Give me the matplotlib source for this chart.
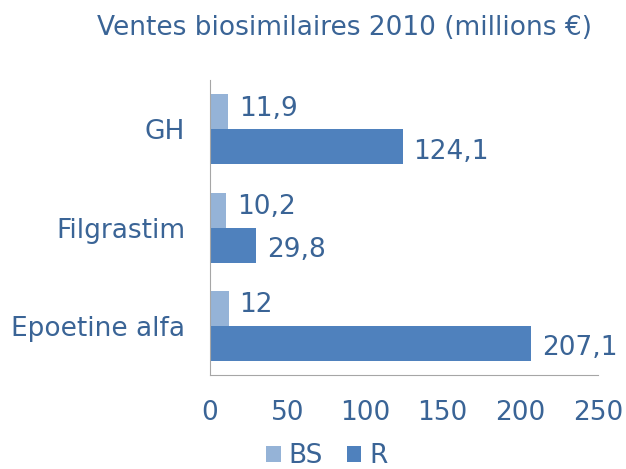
import numpy as np
import matplotlib.pyplot as plt

categories = ['Epoetine alfa', 'Filgrastim', 'GH']
bs = [12, 10.2, 11.9]
r = [207.1, 29.8, 124.1]
bs_labels = ['12', '10,2', '11,9']
r_labels = ['207,1', '29,8', '124,1']

txt = '#3A6496'
c_bs = '#95B3D7'
c_r = '#4F81BD'

fig = plt.figure(figsize=(6.26, 4.69), dpi=100)
ax = fig.add_axes([0.3355, 0.2004, 0.6195, 0.6286])

y = np.arange(len(categories))
h = 0.356
b1 = ax.barh(y + h / 2, bs, height=h, color=c_bs, label='BS')
b2 = ax.barh(y - h / 2, r, height=h, color=c_r, label='R')

for i in range(len(categories)):
    ax.text(bs[i] + 7, y[i] + h / 2 + 0.03, bs_labels[i], va='center', ha='left', fontsize=19, color=txt)
    ax.text(r[i] + 7, y[i] - h / 2 - 0.05, r_labels[i], va='center', ha='left', fontsize=19, color=txt)

ax.set_xlim(0, 250)
ax.set_ylim(-0.5, 2.5)
ax.set_xticks([0, 50, 100, 150, 200, 250])
ax.set_yticks(y)
ax.set_yticklabels(categories)
ax.tick_params(length=0, labelsize=19, labelcolor=txt)
ax.tick_params(axis='x', pad=18)
ax.tick_params(axis='y', pad=18)
for s in ['top', 'right']:
    ax.spines[s].set_visible(False)
for s in ['left', 'bottom']:
    ax.spines[s].set_color('#A6A6A6')

fig.text(0.551, 0.94, 'Ventes biosimilaires 2010 (millions €)', ha='center', va='center', fontsize=19, color=txt)

leg = fig.legend(handles=[b1, b2], loc='center', bbox_to_anchor=(0.522, 0.027), ncol=2, frameon=False,
                 fontsize=19, handlelength=0.55, handleheight=0.55, handletextpad=0.3, columnspacing=0.9)
for t in leg.get_texts():
    t.set_color(txt)

fig.savefig('out.png', dpi=100)
